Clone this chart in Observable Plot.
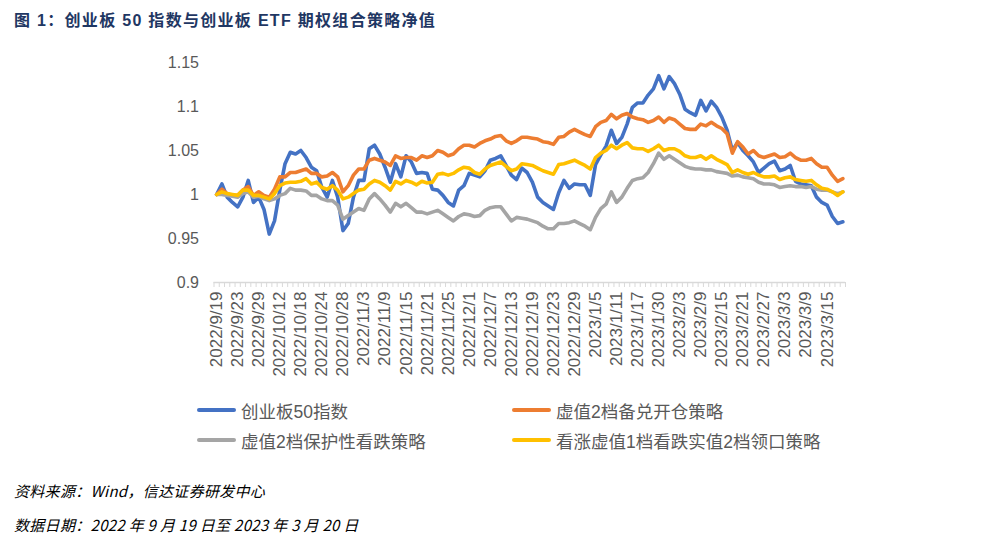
<!DOCTYPE html>
<html>
<head>
<meta charset="utf-8">
<script src="https://cdn.jsdelivr.net/npm/d3@7"></script>
<script src="https://cdn.jsdelivr.net/npm/@observablehq/plot@0.6"></script>
<style>
  html, body { margin: 0; padding: 0; background: #fff; }
  body { width: 998px; height: 545px; position: relative; overflow: hidden; font-family: "Liberation Sans", Arial, "Noto Sans CJK SC", sans-serif; }
  #title { position: absolute; left: 14px; top: 7px; font-family: "Liberation Sans", Arial, "Noto Sans CJK SC", sans-serif; font-weight: bold; font-size: 16px; letter-spacing: 1.3px; color: #1F3763; white-space: nowrap; }
  #chart { position: absolute; left: 0; top: 40px; }
  .legend { position: absolute; font-size: 17.5px; color: #595959; display: flex; align-items: center; white-space: nowrap; font-family: "Liberation Sans", Arial, "Noto Sans CJK SC", sans-serif; }
  .legend .sw { width: 39px; height: 4.5px; border-radius: 2px; margin-right: 5px; }
  .foot { position: absolute; left: 14px; font-size: 15px; letter-spacing: 0.3px; font-style: italic; color: #000; white-space: nowrap; font-family: "Noto Sans CJK SC", sans-serif; }
</style>
</head>
<body>
<div id="title"></div>
<div id="chart"></div>
<div id="legend"></div>
<div class="foot" id="src" style="top:480px;"></div>
<div class="foot" id="date" style="top:514px;"></div>
<script>
const titleText = "图 1：创业板 50 指数与创业板 ETF 期权组合策略净值";
const sourceText = "资料来源：Wind，信达证券研发中心";
const dateText = "数据日期：2022 年 9 月 19 日至 2023 年 3 月 20 日";

const dates = [
  "2022/9/19","2022/9/20","2022/9/21","2022/9/22","2022/9/23","2022/9/26","2022/9/27","2022/9/28","2022/9/29","2022/9/30",
  "2022/10/10","2022/10/11","2022/10/12","2022/10/13","2022/10/14","2022/10/17","2022/10/18","2022/10/19","2022/10/20","2022/10/21",
  "2022/10/24","2022/10/25","2022/10/26","2022/10/27","2022/10/28","2022/10/31",
  "2022/11/1","2022/11/2","2022/11/3","2022/11/4","2022/11/7","2022/11/8","2022/11/9","2022/11/10","2022/11/11","2022/11/14",
  "2022/11/15","2022/11/16","2022/11/17","2022/11/18","2022/11/21","2022/11/22","2022/11/23","2022/11/24","2022/11/25","2022/11/28",
  "2022/11/29","2022/11/30",
  "2022/12/1","2022/12/2","2022/12/5","2022/12/6","2022/12/7","2022/12/8","2022/12/9","2022/12/12","2022/12/13","2022/12/14",
  "2022/12/15","2022/12/16","2022/12/19","2022/12/20","2022/12/21","2022/12/22","2022/12/23","2022/12/26","2022/12/27","2022/12/28",
  "2022/12/29","2022/12/30",
  "2023/1/3","2023/1/4","2023/1/5","2023/1/6","2023/1/9","2023/1/10","2023/1/11","2023/1/12","2023/1/13","2023/1/16",
  "2023/1/17","2023/1/18","2023/1/19","2023/1/20","2023/1/30","2023/1/31",
  "2023/2/1","2023/2/2","2023/2/3","2023/2/6","2023/2/7","2023/2/8","2023/2/9","2023/2/10","2023/2/13","2023/2/14",
  "2023/2/15","2023/2/16","2023/2/17","2023/2/20","2023/2/21","2023/2/22","2023/2/23","2023/2/24","2023/2/27","2023/2/28",
  "2023/3/1","2023/3/2","2023/3/3","2023/3/6","2023/3/7","2023/3/8","2023/3/9","2023/3/10","2023/3/13","2023/3/14",
  "2023/3/15","2023/3/16","2023/3/17","2023/3/20"
];

const seriesNames = ["创业板50指数", "虚值2档备兑开仓策略", "虚值2档保护性看跌策略", "看涨虚值1档看跌实值2档领口策略"];
const seriesColors = ["#4472C4", "#ED7D31", "#A5A5A5", "#FFC000"];

const idx50 = [
  1.000,1.012,0.997,0.991,0.986,0.997,1.016,0.991,0.997,0.983,
  0.955,0.970,1.005,1.035,1.048,1.046,1.050,1.042,1.031,1.027,
  1.008,0.997,1.016,0.997,0.959,0.967,0.997,1.016,1.016,1.052,
  1.056,1.046,1.031,1.014,1.035,1.020,1.044,1.037,1.024,1.025,
  1.024,1.006,1.005,0.999,0.991,0.987,1.005,1.010,1.024,1.022,
  1.020,1.027,1.039,1.041,1.044,1.033,1.022,1.017,1.030,1.025,
  1.014,0.997,0.991,0.987,0.983,1.002,1.016,1.007,1.012,1.011,
  1.011,0.999,1.034,1.045,1.055,1.073,1.058,1.065,1.080,1.099,
  1.104,1.104,1.113,1.120,1.135,1.120,1.134,1.126,1.114,1.097,
  1.093,1.090,1.107,1.095,1.106,1.099,1.088,1.073,1.050,1.059,
  1.050,1.044,1.037,1.025,1.030,1.035,1.038,1.027,1.029,1.033,
  1.015,1.012,1.011,1.010,0.997,0.991,0.988,0.975,0.967,0.969
];
const coveredCall = [
  1.000,1.006,1.001,0.999,0.999,1.005,1.009,0.999,1.003,0.999,
  0.997,1.006,1.020,1.020,1.025,1.025,1.027,1.029,1.024,1.024,
  1.020,1.021,1.025,1.020,1.003,1.010,1.022,1.029,1.029,1.039,
  1.041,1.039,1.037,1.033,1.044,1.041,1.042,1.042,1.039,1.044,
  1.042,1.044,1.050,1.048,1.044,1.046,1.052,1.056,1.056,1.054,
  1.058,1.061,1.063,1.066,1.067,1.061,1.058,1.061,1.065,1.065,
  1.064,1.063,1.060,1.059,1.057,1.065,1.066,1.071,1.074,1.071,
  1.068,1.066,1.077,1.082,1.084,1.091,1.086,1.090,1.092,1.088,
  1.086,1.085,1.082,1.084,1.088,1.082,1.087,1.085,1.080,1.075,
  1.074,1.074,1.080,1.078,1.082,1.078,1.075,1.069,1.047,1.060,
  1.054,1.046,1.050,1.044,1.042,1.044,1.046,1.042,1.043,1.047,
  1.042,1.039,1.039,1.041,1.035,1.031,1.031,1.022,1.015,1.018
];
const protectivePut = [
  1.000,1.000,0.999,0.998,0.997,1.001,1.003,0.997,0.998,0.995,
  0.993,0.995,0.999,1.001,1.007,1.005,1.005,1.004,0.999,0.999,
  0.995,0.993,0.993,0.988,0.972,0.976,0.980,0.984,0.982,0.995,
  1.001,0.995,0.988,0.980,0.990,0.986,0.990,0.985,0.980,0.980,
  0.978,0.980,0.982,0.978,0.974,0.970,0.975,0.978,0.977,0.975,
  0.976,0.982,0.985,0.986,0.986,0.978,0.970,0.974,0.973,0.972,
  0.970,0.968,0.964,0.961,0.961,0.967,0.967,0.968,0.970,0.967,
  0.964,0.960,0.974,0.984,0.989,1.003,0.991,0.997,1.007,1.016,
  1.018,1.019,1.025,1.035,1.047,1.040,1.044,1.040,1.036,1.032,
  1.030,1.029,1.029,1.028,1.028,1.026,1.025,1.024,1.021,1.022,
  1.020,1.019,1.018,1.014,1.012,1.012,1.011,1.008,1.009,1.010,
  1.009,1.009,1.008,1.009,1.006,1.005,1.005,1.003,1.001,1.003
];
const collar = [
  1.000,1.003,1.001,1.000,0.999,1.005,1.005,0.999,0.999,0.997,
  0.995,1.001,1.010,1.013,1.014,1.014,1.015,1.018,1.012,1.014,
  1.008,1.006,1.010,1.005,0.995,0.997,1.001,1.005,1.006,1.012,
  1.016,1.014,1.010,1.005,1.015,1.012,1.016,1.014,1.011,1.015,
  1.013,1.014,1.023,1.024,1.022,1.024,1.028,1.031,1.030,1.025,
  1.023,1.029,1.033,1.035,1.037,1.032,1.027,1.029,1.035,1.034,
  1.033,1.030,1.027,1.025,1.023,1.034,1.035,1.037,1.039,1.036,
  1.033,1.029,1.042,1.047,1.050,1.056,1.052,1.056,1.059,1.053,
  1.052,1.052,1.049,1.052,1.056,1.050,1.052,1.052,1.049,1.044,
  1.042,1.042,1.044,1.040,1.044,1.040,1.037,1.034,1.025,1.028,
  1.025,1.023,1.025,1.022,1.020,1.020,1.021,1.017,1.019,1.020,
  1.017,1.016,1.015,1.016,1.011,1.007,1.006,1.003,0.999,1.003
];

const yTicks = [0.9, 0.95, 1, 1.05, 1.1, 1.15];
const yTickLabels = ["0.9", "0.95", "1", "1.05", "1.1", "1.15"];
const xLabelStep = 4;

const seriesValues = [idx50, coveredCall, protectivePut, collar];
const table = seriesValues.flatMap((vals, s) => vals.map((v, i) => ({ i, v, series: seriesNames[s] })));
const labelIdx = d3.range(0, dates.length, xLabelStep);
const boundaries = d3.range(0, dates.length + 1).map(k => k - 0.5);

document.getElementById("title").textContent = titleText;
document.getElementById("src").textContent = sourceText;
document.getElementById("date").textContent = dateText;

const chart = Plot.plot({
  width: 998,
  height: 350,
  marginTop: 22,
  marginBottom: 108,
  marginLeft: 213.5,
  marginRight: 153,
  style: { fontFamily: "Liberation Sans, Arial, sans-serif", fontSize: "16px", color: "#595959", background: "transparent" },
  x: { domain: [-0.5, dates.length - 0.5], axis: null },
  y: { domain: [yTicks[0], yTicks[yTicks.length - 1]], axis: null },
  color: { domain: seriesNames, range: seriesColors },
  marks: [
    Plot.axisY({ ticks: yTicks, tickSize: 0, tickPadding: 15, tickFormat: d => yTickLabels[yTicks.indexOf(d)], fontSize: 16, label: null }),
    Plot.ruleY([yTicks[0]], { stroke: "#D9D9D9", strokeWidth: 1.3 }),
    Plot.axisX({ ticks: boundaries, tickSize: 5, tickFormat: () => "", stroke: "#D9D9D9", strokeWidth: 1, label: null }),
    Plot.axisX({ ticks: labelIdx, tickSize: 0, tickPadding: 9, tickRotate: -90, tickFormat: i => dates[i], fontSize: 17, label: null }),
    ...seriesNames.map(name => Plot.line(table.filter(d => d.series === name), {
      x: "i", y: "v", stroke: "series", strokeWidth: 3.6, strokeLinejoin: "round", strokeLinecap: "round", curve: "linear"
    }))
  ]
});
document.getElementById("chart").appendChild(chart);

const legendPos = [[197, 399], [512, 399], [197, 429], [512, 429]];
const legendDiv = document.getElementById("legend");
seriesNames.forEach((name, k) => {
  const item = document.createElement("div");
  item.className = "legend";
  item.style.left = legendPos[k][0] + "px";
  item.style.top = legendPos[k][1] + "px";
  item.style.height = "22px";
  const sw = document.createElement("div");
  sw.className = "sw";
  sw.style.background = seriesColors[k];
  const tx = document.createElement("span");
  tx.textContent = name;
  item.appendChild(sw);
  item.appendChild(tx);
  legendDiv.appendChild(item);
});
</script>
</body>
</html>
